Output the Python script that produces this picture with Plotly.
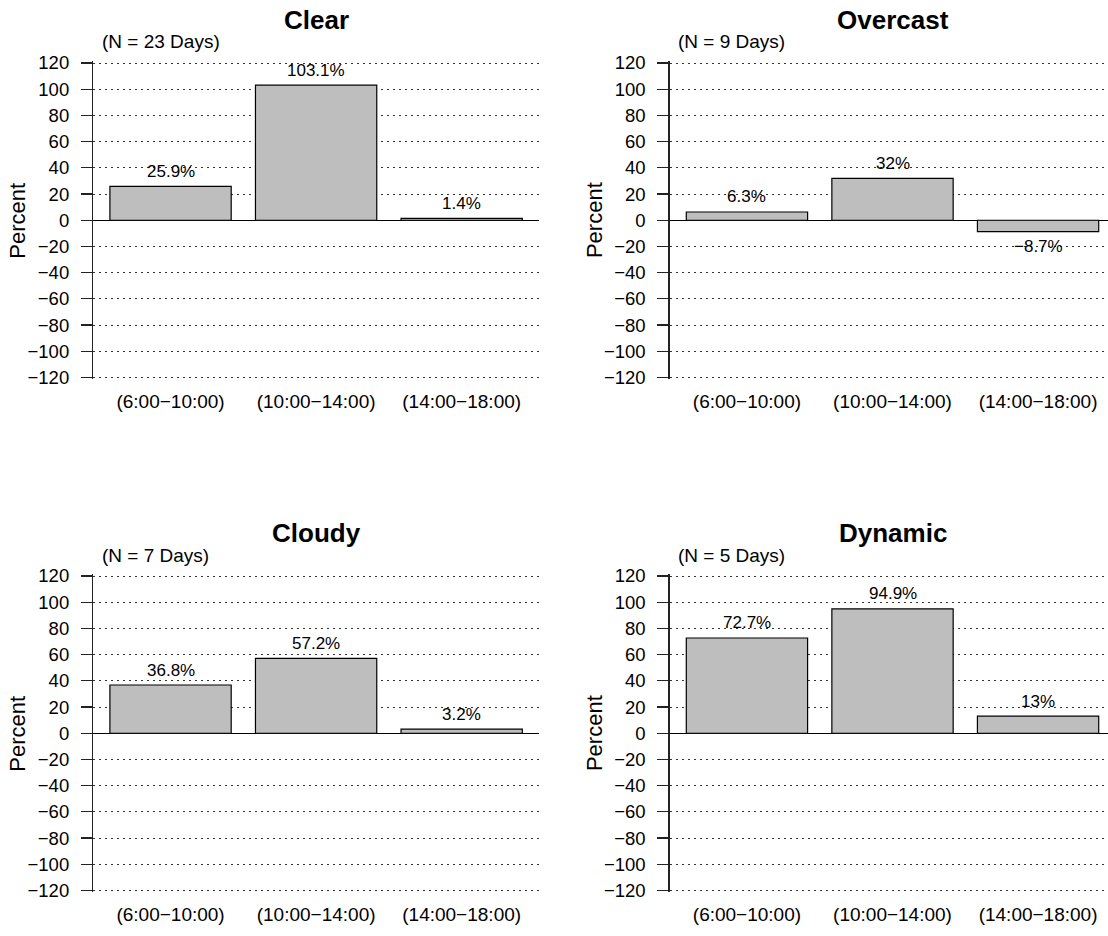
import plotly.graph_objects as go

# ---------------- data ----------------
periods = ["(6:00\u221210:00)", "(10:00\u221214:00)", "(14:00\u221218:00)"]
conditions = ["Clear", "Overcast", "Cloudy", "Dynamic"]
n_days = [23, 9, 7, 5]
clear = [25.9, 103.1, 1.4]
overcast = [6.3, 32.0, -8.7]
cloudy = [36.8, 57.2, 3.2]
dynamic = [72.7, 94.9, 13.0]
y_ticks = [-120, -100, -80, -60, -40, -20, 0, 20, 40, 60, 80, 100, 120]

series = [clear, overcast, cloudy, dynamic]

# ---------------- layout constants ----------------
FW, FH = 1108, 936
PX_PER_UNIT = 121.3
X0 = 0.064               # R barplot usr[1]
X_SPAN = 3.672           # usr[2]-usr[1]
left_px = [93.4, 669.8]  # axis line x for left / right column
top_px = [63.0, 576.0]   # y pixel of +120 for top / bottom row
Y_SPAN_PX = 314.5        # pixels from +120 to -120
Y_PAD = 1.5              # small range pad so the +-120 grid lines are drawn
FONT = "Liberation Sans, Arial, Helvetica, sans-serif"


def fmt(v):
    return f"{v:g}%".replace("-", "\u2212")


fig = go.Figure()
layout = dict(
    width=FW, height=FH, margin=dict(l=0, r=0, t=0, b=0, pad=0, autoexpand=False),
    paper_bgcolor="white", plot_bgcolor="white", showlegend=False,
    font=dict(family=FONT, size=19, color="black"),
)
annotations = []

for k, (cond, vals, nd) in enumerate(zip(conditions, series, n_days)):
    row, col = divmod(k, 2)
    idx = "" if k == 0 else str(k + 1)
    lp = left_px[col]
    rp = min(lp + X_SPAN * PX_PER_UNIT, FW)
    x_end = X0 + (rp - lp) / PX_PER_UNIT
    tp = top_px[row]
    bp = tp + Y_SPAN_PX
    pad_px = Y_PAD * Y_SPAN_PX / 240.0

    xpos = [0.7 + 1.2 * i for i in range(len(periods))]
    fig.add_trace(go.Bar(
        x=xpos, y=vals, width=1.0,
        marker=dict(color="#BEBEBE", line=dict(color="black", width=1.2)),
        xaxis="x" + idx, yaxis="y" + idx, hoverinfo="skip",
    ))

    layout["xaxis" + idx] = dict(
        domain=[lp / FW, rp / FW], range=[X0, x_end], anchor="y" + idx,
        showgrid=False, zeroline=False, showline=False, ticks="",
        tickvals=xpos, ticktext=periods, tickfont=dict(size=19),
        ticklabelstandoff=9, fixedrange=True, automargin=False,
    )
    layout["yaxis" + idx] = dict(
        domain=[1 - (bp + pad_px) / FH, 1 - (tp - pad_px) / FH],
        range=[-120 - Y_PAD, 120 + Y_PAD], anchor="x" + idx,
        tickvals=y_ticks, ticktext=[f"{t}".replace("-", "\u2212") for t in y_ticks],
        ticks="outside", ticklen=11, tickwidth=1.2, tickcolor="#222",
        showline=True, linecolor="#222", linewidth=1.5,
        showgrid=True, gridcolor="#333", gridwidth=1, griddash="2px,4px",
        zeroline=True, zerolinecolor="black", zerolinewidth=1.2,
        tickfont=dict(size=18.5), ticklabelstandoff=8, fixedrange=True,
        automargin=False,
    )

    # bar value labels
    for xv, v in zip(xpos, vals):
        annotations.append(dict(
            x=xv, y=v, xref="x" + idx, yref="y" + idx, text=fmt(v),
            showarrow=False, yshift=15 if v >= 0 else -15,
            font=dict(size=17), xanchor="center", yanchor="middle",
        ))

    # panel title
    annotations.append(dict(
        x=((lp + lp + X_SPAN * PX_PER_UNIT) / 2) / FW, y=1 - (tp - 43) / FH,
        xref="paper", yref="paper", text=f"<b>{cond}</b>", showarrow=False,
        font=dict(size=26), xanchor="center", yanchor="middle",
    ))
    # N days
    annotations.append(dict(
        x=(lp + 6.5) / FW, y=1 - (tp - 21) / FH,
        xref="paper", yref="paper", text=f"(N = {nd} Days)", showarrow=False,
        font=dict(size=19), xanchor="left", yanchor="middle",
    ))
    # y axis label
    annotations.append(dict(
        x=(lp - 76) / FW, y=1 - (tp + Y_SPAN_PX / 2) / FH,
        xref="paper", yref="paper", text="Percent", showarrow=False,
        textangle=-90, font=dict(size=22), xanchor="center", yanchor="middle",
    ))

layout["annotations"] = annotations
fig.update_layout(**layout)
fig.write_html(
    "out.html",
    config={"displayModeBar": False, "staticPlot": True},
    post_script="document.body.style.margin='0';document.body.style.overflow='hidden';",
)
